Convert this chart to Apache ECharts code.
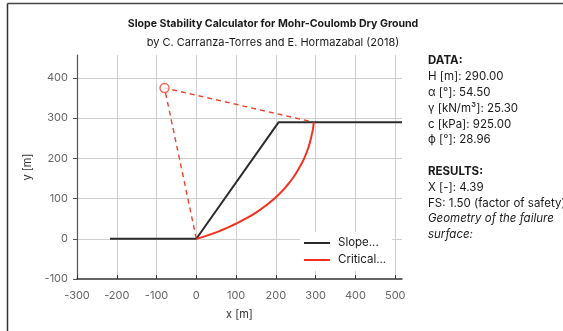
<!DOCTYPE html>
<html>
<head>
<meta charset="utf-8">
<script src="https://cdn.jsdelivr.net/npm/echarts@6/dist/echarts.min.js"></script>
<style>
  html, body { margin: 0; padding: 0; background: #fff; }
  #chart { width: 563px; height: 331px; }
</style>
</head>
<body>
<div id="chart"></div>
<script>
// Slope profile (ground surface) in metres
const slopeX = [-217, 0, 207, 517];
const slopeY = [0, 0, 290, 290];

// Critical failure surface, toe to crest
const critX = [0, 30, 60, 90, 120, 150, 178, 204, 226, 244, 259, 272, 282, 289, 293, 295];
const critY = [0, 9, 20, 33, 48, 65, 85, 107, 130, 153, 177, 202, 228, 254, 272, 290];

// Rotation centre of the failure surface and the rays to its ends
const centreX = [-80];
const centreY = [375];
const rayX = [0, -80, 295];
const rayY = [0, 375, 290];

const dataLines = [
  ['b', 'DATA:'],
  ['n', 'H [m]: 290.00'],
  ['n', 'α [°]: 54.50'],
  ['n', 'γ [kN/m³]: 25.30'],
  ['n', 'c [kPa]: 925.00'],
  ['n', 'ϕ [°]: 28.96'],
  ['n', ''],
  ['b', 'RESULTS:'],
  ['n', 'X [-]: 4.39'],
  ['n', 'FS: 1.50 (factor of safety)'],
  ['i', 'Geometry of the failure'],
  ['i', 'surface:']
];

const FONT = 'Inter, "Noto Sans", sans-serif';
const pair = (xs, ys) => xs.map((x, i) => [x, ys[i]]);
const LINE_ICON = 'path://M0,4 L26,4 L26,6 L0,6 Z';

const chart = echarts.init(document.getElementById('chart'), null, { renderer: 'canvas' });

const textEls = dataLines.map((l, i) => ({
  type: 'text',
  left: 428,
  top: 55 + i * 15.8,
  style: {
    text: l[1],
    fill: '#1a1a1a',
    font: (l[0] === 'b' ? '700 ' : l[0] === 'i' ? 'italic 400 ' : '400 ') + '11.5px ' + FONT
  }
}));

chart.setOption({
  animation: false,
  backgroundColor: '#fff',
  textStyle: { fontFamily: FONT },
  title: [
    {
      text: 'Slope Stability Calculator for Mohr-Coulomb Dry Ground',
      left: 268, top: 13, textAlign: 'center',
      textStyle: { fontSize: 10.6, fontWeight: 700, color: '#1a1a1a', fontFamily: FONT }
    },
    {
      text: 'by C. Carranza-Torres and E. Hormazabal (2018)',
      left: 268, top: 32, textAlign: 'center',
      textStyle: { fontSize: 11, fontWeight: 400, color: '#1a1a1a', fontFamily: FONT }
    }
  ],
  grid: { left: 77, right: 161, top: 55, bottom: 52, containLabel: false },
  xAxis: {
    type: 'value',
    min: -300, max: 517, interval: 100,
    name: 'x [m]', nameLocation: 'middle', nameGap: 30,
    nameTextStyle: { fontSize: 11, color: '#333', fontFamily: FONT },
    axisLine: { show: true, onZero: false, lineStyle: { color: '#333', width: 1.5 } },
    axisTick: { show: true, inside: true, length: 4, lineStyle: { color: '#333' } },
    axisLabel: { showMaxLabel: false, color: '#666', fontSize: 11, margin: 11, fontFamily: FONT },
    splitLine: { show: true, showMaxLine: false, showMinLine: false, lineStyle: { color: '#cfcfcf', width: 1 } }
  },
  yAxis: {
    type: 'value',
    min: -100, max: 457, interval: 100,
    name: 'y [m]', nameLocation: 'middle', nameGap: 38, nameRotate: 90,
    nameTextStyle: { fontSize: 11, color: '#333', fontFamily: FONT },
    axisLine: { show: true, onZero: false, lineStyle: { color: '#555', width: 1.2 } },
    axisTick: { show: true, length: 4, lineStyle: { color: '#555' } },
    axisLabel: { showMaxLabel: false, color: '#666', fontSize: 11, margin: 9, fontFamily: FONT },
    splitLine: { show: true, showMaxLine: false, showMinLine: false, lineStyle: { color: '#cfcfcf', width: 1 } }
  },
  legend: {
    left: 300, top: 232,
    orient: 'vertical',
    backgroundColor: '#fff',
    padding: [5, 6, 5, 4],
    itemGap: 5,
    itemWidth: 26, itemHeight: 10,
    textStyle: { fontSize: 11.5, color: '#1a1a1a', fontFamily: FONT, padding: [0, 0, 0, 3] },
    data: [
      { name: 'Slope...', icon: LINE_ICON },
      { name: 'Critical...', icon: LINE_ICON }
    ]
  },
  graphic: [
    { type: 'line', shape: { x1: 7.5, y1: 3.5, x2: 563, y2: 3.5 }, style: { stroke: '#444', lineWidth: 1.5 }, z: 100 },
    { type: 'line', shape: { x1: 7.5, y1: 3.5, x2: 7.5, y2: 331 }, style: { stroke: '#333', lineWidth: 1.5 }, z: 100 }
  ].concat(textEls),
  series: [
    {
      name: 'Rays', type: 'line', data: pair(rayX, rayY),
      symbol: 'none', silent: true, z: 3,
      lineStyle: { color: '#f0402a', width: 1.4, type: [5, 4] }
    },
    {
      name: 'Centre', type: 'scatter', data: pair(centreX, centreY),
      symbol: 'circle', symbolSize: 9, z: 4,
      itemStyle: { color: '#fff', borderColor: '#f0402a', borderWidth: 1.4 }
    },
    {
      name: 'Slope...', type: 'line', data: pair(slopeX, slopeY),
      symbol: 'none', z: 5,
      color: '#2b2b2b',
      lineStyle: { color: '#2b2b2b', width: 2 }
    },
    {
      name: 'Critical...', type: 'line', data: pair(critX, critY),
      symbol: 'none', smooth: 0.5, z: 6,
      color: '#f2311e',
      lineStyle: { color: '#f2311e', width: 2 }
    }
  ]
});
</script>
</body>
</html>
